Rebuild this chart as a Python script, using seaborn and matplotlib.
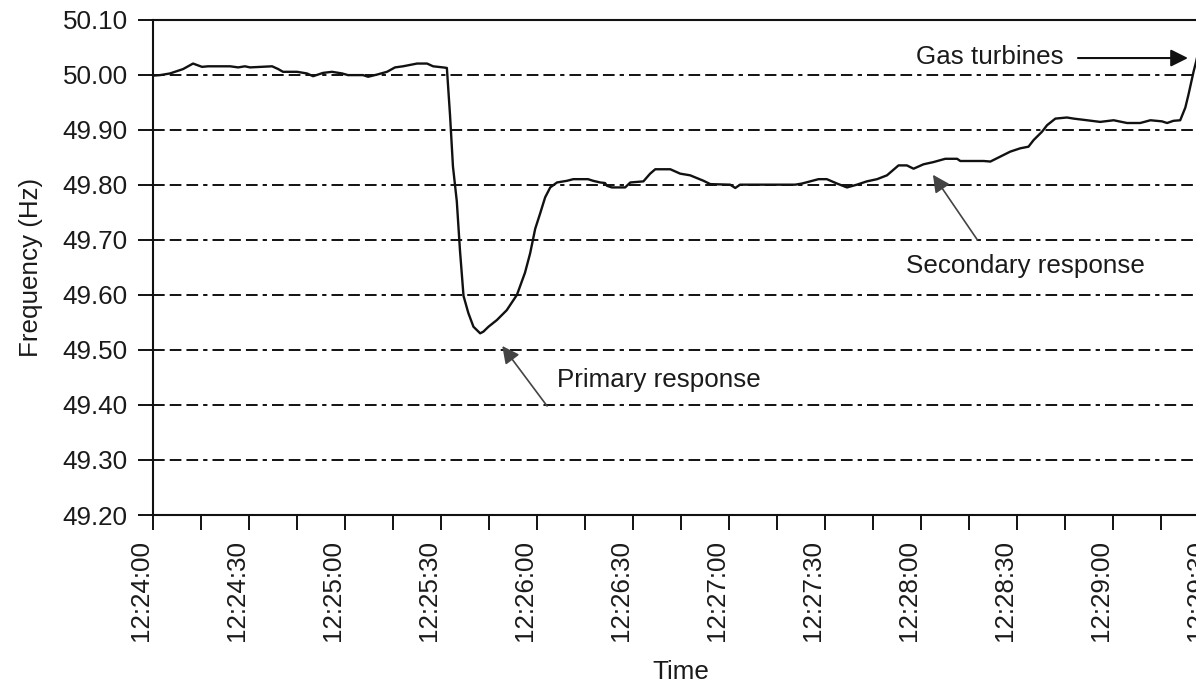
import matplotlib
matplotlib.use("Agg")
import matplotlib.pyplot as plt
import seaborn as sns
import numpy as np
import pandas as pd
from matplotlib.ticker import MultipleLocator, FixedLocator, FixedFormatter

# ---- data (seconds after 12:24:00, frequency in Hz) ----
time_s = [0.0, 2.3, 5.4, 9.5, 12.6, 15.4, 17.3, 20.1, 24.2, 26.7, 28.8, 30.4, 37.3, 39.2, 40.7,
          45.1, 48.2, 50.1, 53.2, 56.0, 59.2, 61.0, 65.7, 67.3, 70.1, 73.2, 75.7, 78.2, 82.6,
          85.7, 87.6, 90.7, 91.9, 92.9, 93.8, 95.0, 96.0, 97.1, 98.6, 100.2, 102.3, 103.3,
          104.9, 107.5, 110.6, 113.8, 116.3, 117.9, 119.5, 121.0, 122.6, 124.2, 126.3, 129.4,
          131.4, 136.0, 137.6, 139.8, 141.3, 141.9, 143.4, 147.6, 149.2, 153.3, 155.4, 157.0,
          161.7, 164.8, 167.9, 172.1, 174.2, 180.4, 182.0, 183.5, 200.7, 202.8, 205.4, 208.0,
          210.6, 213.8, 216.9, 220.0, 223.1, 226.3, 229.4, 233.0, 235.6, 237.7, 240.8, 243.9,
          247.6, 251.3, 252.3, 256.4, 259.6, 261.7, 264.8, 267.9, 271.0, 273.6, 275.2, 277.8,
          279.4, 282.0, 285.6, 287.7, 291.9, 296.0, 300.2, 304.4, 308.5, 311.7, 315.3, 316.9,
          318.9, 321.0, 322.6, 323.6, 325.2, 326.0, 326.6]
freq_hz = [49.998, 49.999, 50.002, 50.010, 50.020, 50.014, 50.015, 50.015, 50.015, 50.013,
           50.015, 50.013, 50.015, 50.010, 50.005, 50.005, 50.002, 49.997, 50.003, 50.005,
           50.002, 49.999, 49.999, 49.996, 50.000, 50.005, 50.013, 50.015, 50.020, 50.020,
           50.015, 50.013, 50.012, 49.925, 49.833, 49.770, 49.680, 49.598, 49.567, 49.542,
           49.530, 49.533, 49.542, 49.554, 49.572, 49.600, 49.640, 49.675, 49.720, 49.747,
           49.777, 49.795, 49.804, 49.807, 49.810, 49.810, 49.807, 49.804, 49.803, 49.798,
           49.795, 49.795, 49.804, 49.806, 49.820, 49.828, 49.828, 49.820, 49.817, 49.807,
           49.801, 49.800, 49.794, 49.800, 49.800, 49.802, 49.806, 49.810, 49.810, 49.802,
           49.795, 49.800, 49.806, 49.810, 49.817, 49.835, 49.835, 49.829, 49.837, 49.841,
           49.847, 49.847, 49.843, 49.843, 49.843, 49.842, 49.851, 49.860, 49.866, 49.869,
           49.881, 49.896, 49.908, 49.920, 49.922, 49.920, 49.917, 49.914, 49.917, 49.912,
           49.912, 49.917, 49.915, 49.912, 49.916, 49.917, 49.940, 49.964, 50.006, 50.024,
           50.040]

tick_labels = ["12:24:00", "12:24:30", "12:25:00", "12:25:30", "12:26:00", "12:26:30",
               "12:27:00", "12:27:30", "12:28:00", "12:28:30", "12:29:00", "12:29:30"]
y_ticks = [49.20, 49.30, 49.40, 49.50, 49.60, 49.70, 49.80, 49.90, 50.00, 50.10]

df = pd.DataFrame({"t": time_s, "f": freq_hz})

sns.set_theme(style="white")
plt.rcParams["font.family"] = ["Liberation Sans", "DejaVu Sans"]

fig = plt.figure(figsize=(11.96, 6.86), dpi=100)
ax = fig.add_axes([0.12768, 0.24927, 0.8832, 0.7223])

ink = "#111111"

# dashed gridlines
for yv in y_ticks[1:-1]:
    ax.axhline(yv, color=ink, lw=1.4, dashes=(6, 2.6, 6, 2.6, 6, 2.6, 2.2, 2.6), zorder=1)

sns.lineplot(data=df, x="t", y="f", ax=ax, color=ink, lw=1.7, zorder=3)

ax.set_xlim(0, 330)
ax.set_ylim(49.2, 50.1)

ax.xaxis.set_major_locator(FixedLocator(np.arange(0, 331, 30)))
ax.xaxis.set_major_formatter(FixedFormatter(tick_labels))
ax.xaxis.set_minor_locator(MultipleLocator(15))
ax.set_yticks(y_ticks)
ax.set_yticklabels([f"{v:.2f}" for v in y_ticks])

ax.tick_params(axis="both", which="both", direction="out", length=11, width=1.4,
               color=ink, labelsize=18.7, labelcolor="#1a1a1a", pad=7)
ax.tick_params(axis="x", which="both", bottom=True)
ax.tick_params(axis="y", left=True)
for lbl in ax.get_xticklabels():
    lbl.set_rotation(90)
    lbl.set_ha("right")

for s in ax.spines.values():
    s.set_color(ink)
    s.set_linewidth(1.5)

ax.set_xlabel("Time", fontsize=18.7, color="#1a1a1a", labelpad=14)
ax.set_ylabel("Frequency (Hz)", fontsize=18.7, color="#1a1a1a", labelpad=14)

# annotations
ax.text(238.5, 50.032, "Gas turbines", fontsize=18.7, color="#1a1a1a", ha="left", va="center")
ax.annotate("", xy=(324.3, 50.030), xytext=(288.2, 50.030),
            arrowprops=dict(arrowstyle="-|>", color=ink, lw=1.5, mutation_scale=26))

ax.text(272.6, 49.653, "Secondary response", fontsize=18.7, color="#1a1a1a", ha="center", va="center")
ax.annotate("", xy=(243.75, 49.818), xytext=(257.6, 49.70),
            arrowprops=dict(arrowstyle="-|>", color="#444444", lw=1.2, mutation_scale=26,
                            shrinkA=0, shrinkB=0))

ax.text(158.1, 49.445, "Primary response", fontsize=18.7, color="#1a1a1a", ha="center", va="center")
ax.annotate("", xy=(109.2, 49.507), xytext=(123.2, 49.398),
            arrowprops=dict(arrowstyle="-|>", color="#444444", lw=1.2, mutation_scale=26,
                            shrinkA=0, shrinkB=0))

fig.savefig("out.png", dpi=100)
